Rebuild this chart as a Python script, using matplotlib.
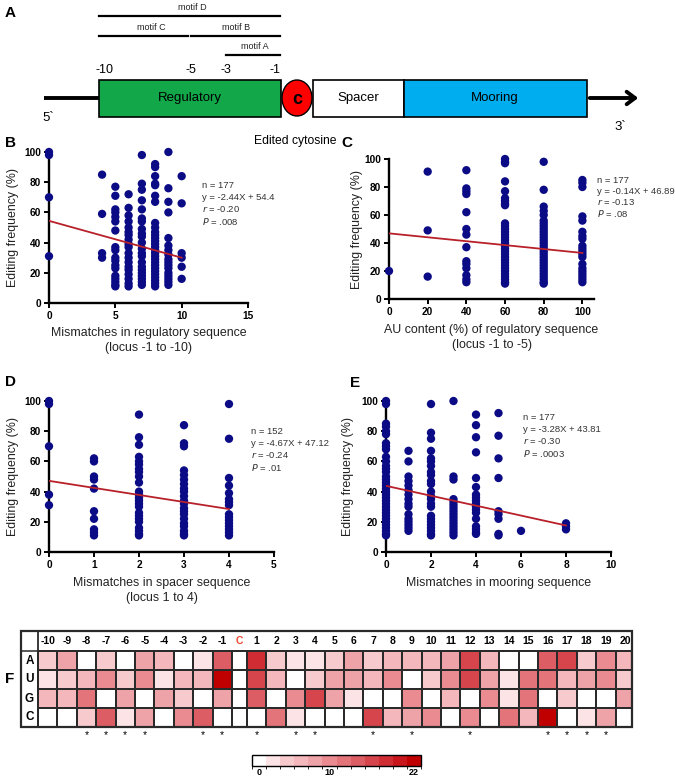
import matplotlib
matplotlib.use('Agg')
import matplotlib.pyplot as plt
import numpy as np
from matplotlib.patches import Rectangle, Ellipse
from matplotlib.colors import ListedColormap, BoundaryNorm
import matplotlib.cm as cm

plt.rcParams['font.family'] = ['Liberation Sans', 'DejaVu Sans']

W, H = 675, 778

# ---- data: scatter panels (x value -> list of editing frequencies) ----
b_x = [0, 4, 5, 6, 7, 8, 9, 10]
b_y = [[100, 98, 70, 31],
       [85, 59, 33, 30],
       [77, 71, 62, 60, 57, 54, 48, 37, 35, 30, 28, 25, 23, 18, 16, 14, 12, 11],
       [72, 63, 58, 54, 50, 47, 45, 42, 39, 37, 33, 30, 27, 24, 22, 19, 16, 13, 11],
       [98, 79, 75, 68, 62, 56, 54, 49, 46, 44, 40, 36, 33, 31, 27, 24, 22, 20, 18, 16, 14, 12],
       [92, 90, 84, 79, 78, 71, 67, 53, 50, 47, 45, 43, 41, 39, 37, 35, 33, 31, 29, 27, 25, 23,
        21, 19, 17, 15, 13, 11],
       [100, 76, 67, 60, 43, 38, 35, 32, 29, 27, 25, 23, 20, 18, 16, 14, 12],
       [84, 66, 33, 30, 24, 16]]
b_fit = (-2.44, 54.4, 0, 10)
b_stats = ['n = 177', 'y = -2.44X + 54.4', '$r$ = -0.20', '$P$ = .008']

c_x = [0, 20, 40, 60, 80, 100]
c_y = [[20],
       [91, 49, 16],
       [92, 79, 77, 75, 62, 50, 46, 37, 27, 25, 22, 17, 14, 12],
       [100, 98, 97, 84, 77, 72, 70, 68, 67, 54, 52, 50, 48, 46, 44, 42, 40, 38, 36, 34, 32, 30,
        28, 26, 24, 22, 20, 18, 16, 14, 12, 11],
       [98, 78, 66, 63, 60, 56, 54, 52, 50, 48, 46, 44, 42, 40, 38, 36, 34, 32, 30, 28, 26, 24,
        22, 20, 18, 16, 14, 12, 11],
       [85, 83, 80, 59, 56, 48, 45, 43, 38, 36, 34, 32, 30, 25, 22, 20, 18, 16, 14, 12]]
c_fit = (-0.14, 46.89, 0, 100)
c_stats = ['n = 177', 'y = -0.14X + 46.89', '$r$ = -0.13', '$P$ = .08']

d_x = [0, 1, 2, 3, 4]
d_y = [[100, 98, 70, 38, 31],
       [62, 60, 50, 48, 42, 27, 22, 15, 13, 11],
       [91, 76, 71, 63, 60, 58, 55, 53, 50, 46, 40, 38, 36, 34, 32, 30, 26, 24, 22, 20, 16, 14,
        12, 11],
       [84, 72, 70, 54, 51, 48, 45, 42, 40, 37, 34, 32, 29, 27, 25, 22, 19, 17, 14, 12, 11],
       [98, 75, 49, 44, 39, 35, 33, 31, 25, 23, 21, 19, 17, 15, 13, 11]]
d_fit = (-4.67, 47.12, 0, 4)
d_stats = ['n = 152', 'y = -4.67X + 47.12', '$r$ = -0.24', '$P$ = .01']

e_x = [0, 1, 2, 3, 4, 5, 6, 8]
e_y = [[100, 98, 85, 83, 80, 78, 72, 70, 68, 63, 60, 57, 55, 53, 50, 48, 46, 44, 42, 40, 38,
        36, 34, 32, 30, 28, 26, 24, 22, 20, 18, 16, 14, 12, 11],
       [67, 60, 50, 47, 44, 41, 38, 35, 32, 30, 25, 22, 20, 18, 16, 14],
       [98, 79, 75, 67, 62, 60, 57, 53, 51, 47, 45, 40, 37, 35, 32, 30, 24, 22, 20, 18, 16, 14,
        12, 11],
       [100, 50, 48, 35, 33, 31, 29, 27, 25, 23, 21, 19, 17, 15, 13, 11],
       [91, 84, 76, 66, 49, 43, 38, 36, 34, 32, 30, 28, 26, 22, 17, 15, 13, 12],
       [92, 77, 62, 49, 27, 25, 22, 12, 11],
       [14],
       [19, 17, 15]]
e_fit = (-3.28, 43.81, 0, 8)
e_stats = ['n = 177', 'y = -3.28X + 43.81', '$r$ = -0.30', '$P$ = .0003']

# ---- data: heatmap (positions -10..-1 and 1..20, counts 0-22) ----
pos_up = ['-10', '-9', '-8', '-7', '-6', '-5', '-4', '-3', '-2', '-1']
pos_down = [str(i) for i in range(1, 21)]
bases = ['A', 'U', 'G', 'C']
heat_A = [4, 8, 0, 4, 0, 8, 6, 0, 2, 14,
          18, 4, 2, 2, 4, 8, 4, 6, 6, 6, 8, 16, 6, 0, 0, 14, 16, 4, 10, 6]
heat_U = [2, 4, 6, 10, 4, 10, 2, 6, 6, 22,
          16, 6, 0, 4, 8, 8, 6, 10, 0, 4, 10, 16, 8, 2, 12, 12, 6, 8, 10, 4]
heat_G = [6, 6, 12, 0, 8, 0, 8, 4, 0, 8,
          14, 0, 10, 16, 8, 2, 0, 0, 10, 0, 6, 0, 10, 2, 12, 0, 4, 0, 0, 8]
heat_C = [0, 0, 4, 14, 2, 8, 0, 10, 14, 0,
          0, 12, 2, 0, 0, 0, 16, 6, 8, 10, 0, 10, 0, 12, 6, 22, 0, 2, 8, 0]
starred = ['-8', '-7', '-6', '-5', '-2', '-1', '1', '3', '4', '7', '9', '12',
           '16', '17', '18', '19']

# ---- figure ----
fig = plt.figure(figsize=(W / 100, H / 100), dpi=100)


def px_axes(l, t, r, b, **kw):
    return fig.add_axes([l / W, 1 - b / H, (r - l) / W, (b - t) / H], **kw)


canvas = px_axes(0, 0, W, H)
canvas.set_xlim(0, W)
canvas.set_ylim(H, 0)
canvas.axis('off')
canvas.set_zorder(10)
canvas.patch.set_alpha(0)

dot_color = '#0B0B86'
fit_color = '#B8202A'


def scatter_panel(box, xs, ys, fit, stats, xlim, xticks, letter, letter_xy,
                  stats_xy, stats_dy, xlabel, xlabel_y, ylabel_x):
    l, t, r, b = box
    ax = px_axes(l, t, r, b)
    px = np.concatenate([[x] * len(v) for x, v in zip(xs, ys)])
    py = np.concatenate(ys)
    ax.scatter(px, py, s=36, color=dot_color, edgecolors='none', clip_on=False, zorder=3)
    m, c, x0, x1 = fit
    ax.plot([x0, x1], [m * x0 + c, m * x1 + c], color=fit_color, lw=1.3, zorder=4)
    ax.set_xlim(*xlim)
    ax.set_ylim(0, 100)
    ax.set_xticks(xticks)
    ax.set_yticks([0, 20, 40, 60, 80, 100])
    for s in ['top', 'right']:
        ax.spines[s].set_visible(False)
    for s in ['left', 'bottom']:
        ax.spines[s].set_linewidth(1.7)
    ax.tick_params(width=1.4, length=3.5, labelsize=7.3, pad=2)
    for lab in ax.get_xticklabels() + ax.get_yticklabels():
        lab.set_fontweight('bold')
    ax.patch.set_alpha(0)
    canvas.text(letter_xy[0], letter_xy[1], letter, fontsize=11, fontweight='bold',
                ha='left', va='center')
    for i, st in enumerate(stats):
        canvas.text(stats_xy[0], stats_xy[1] + i * stats_dy, st, fontsize=6.8,
                    color='#333333', ha='left', va='center')
    for i, line in enumerate(xlabel):
        canvas.text((l + r) / 2, xlabel_y + i * 15, line, fontsize=8.9,
                    ha='center', va='center', color='#222222')
    canvas.text(ylabel_x, (t + b) / 2, 'Editing frequency (%)', fontsize=8.9,
                rotation=90, ha='center', va='center', color='#222222')
    return ax


scatter_panel((49, 152, 248, 303), b_x, b_y, b_fit, b_stats, (0, 15), [0, 5, 10, 15],
              'B', (5, 143), (202, 185), 12.2,
              ['Mismatches in regulatory sequence', '(locus -1 to -10)'], 333, 13)
scatter_panel((389, 159, 594, 299), c_x, c_y, c_fit, c_stats, (0, 106),
              [0, 20, 40, 60, 80, 100],
              'C', (341, 143), (597, 180), 11.2,
              ['AU content (%) of regulatory sequence', '(locus -1 to -5)'], 330, 357)
scatter_panel((49, 401, 274, 552), d_x, d_y, d_fit, d_stats, (0, 5), [0, 1, 2, 3, 4, 5],
              'D', (5, 382), (251, 431), 12.0,
              ['Mismatches in spacer sequence', '(locus 1 to 4)'], 583, 13)
scatter_panel((386, 401, 611, 552), e_x, e_y, e_fit, e_stats, (0, 10),
              [0, 2, 4, 6, 8, 10],
              'E', (350, 383), (523, 417), 12.0,
              ['Mismatches in mooring sequence'], 583, 348)

# ---- panel A: schematic ----
canvas.text(5, 13, 'A', fontsize=11, fontweight='bold', ha='left', va='center')
canvas.plot([44, 99], [98, 98], color='black', lw=2.8, solid_capstyle='butt')
canvas.add_patch(Rectangle((99, 80), 182, 37, facecolor='#12A84A', edgecolor='black', lw=1.2))
canvas.add_patch(Rectangle((313, 80), 91, 37, facecolor='white', edgecolor='black', lw=1.2))
canvas.add_patch(Rectangle((404, 80), 183, 37, facecolor='#00AEEF', edgecolor='black', lw=1.2))
canvas.annotate('', xy=(641, 98), xytext=(587, 98),
                arrowprops=dict(arrowstyle='->,head_length=0.6,head_width=0.45',
                                color='black', lw=2.8))
canvas.add_patch(Ellipse((297, 98), 30, 36, facecolor='#FF0000', edgecolor='black', lw=1.0))
canvas.text(297, 99, 'c', fontsize=13, fontweight='bold', ha='center', va='center')
canvas.text(190, 98, 'Regulatory', fontsize=9.5, ha='center', va='center')
canvas.text(358, 98, 'Spacer', fontsize=9.5, ha='center', va='center')
canvas.text(495, 98, 'Mooring', fontsize=9.5, ha='center', va='center')
canvas.text(48, 118, '5`', fontsize=9.5, ha='center', va='center')
canvas.text(620, 127, '3`', fontsize=9.5, ha='center', va='center')
canvas.text(295, 141, 'Edited cytosine', fontsize=8.7, ha='center', va='center')
for lab, x in [('-10', 105), ('-5', 191), ('-3', 226), ('-1', 275)]:
    canvas.text(x, 70, lab, fontsize=9, ha='center', va='center')
for x0, x1, y, lab, tx in [(99, 280, 16, 'motif D', 192), (99, 188, 36, 'motif C', 151),
                           (191, 280, 36, 'motif B', 236), (226, 280, 55, 'motif A', 255)]:
    canvas.plot([x0, x1], [y, y], color='black', lw=1.6)
    canvas.text(tx, y - 9, lab, fontsize=6.5, ha='center', va='center', color='#222222')

# ---- panel F: heatmap ----
canvas.text(5, 679, 'F', fontsize=11, fontweight='bold', ha='left', va='center')
tx0, tx1, ty0, ty1 = 21, 632, 631, 727
hdr_b = 651
lab_r = 38
cw = (232 - 38) / 10
cgap = 15
axh = px_axes(tx0, ty0, tx1, ty1)
axh.set_xlim(tx0, tx1)
axh.set_ylim(ty1, ty0)
axh.axis('off')

colors = ['#FFFFFF', '#FCE3E5', '#F7CACE', '#F3B7BC', '#EEA3A9', '#E98B91',
          '#E3747A', '#DD5D64', '#D6454C', '#CF2D33', '#C8161C', '#C00000']
cmap = ListedColormap(colors)
cmap.set_bad('white')
bounds = np.arange(-1, 24, 2)
norm = BoundaryNorm(bounds, cmap.N)

rows = [heat_A, heat_U, heat_G, heat_C]
grid = np.array([r[:10] + [np.nan] + r[10:] for r in rows], dtype=float)
xe = np.concatenate([lab_r + np.arange(11) * cw,
                     lab_r + 10 * cw + cgap + np.arange(21) * cw])
ye = np.linspace(hdr_b, ty1, 5)
axh.pcolormesh(xe, ye, np.ma.masked_invalid(grid), cmap=cmap, norm=norm,
               edgecolors='#2A2A2A', linewidth=1.1)
# C column borders and table frame
axh.plot([xe[10], xe[10]], [hdr_b, ty1], color='#2A2A2A', lw=1.1)
axh.plot([xe[11], xe[11]], [hdr_b, ty1], color='#2A2A2A', lw=1.1)
axh.plot([tx0, tx1], [hdr_b, hdr_b], color='#2A2A2A', lw=1.1)
axh.plot([lab_r, lab_r], [ty0, ty1], color='#2A2A2A', lw=1.3)
axh.add_patch(Rectangle((tx0, ty0), tx1 - tx0, ty1 - ty0, facecolor='none',
                        edgecolor='#2A2A2A', lw=1.6, clip_on=False))

labels = pos_up + ['C'] + pos_down
centers = (xe[:-1] + xe[1:]) / 2
for lab, xc in zip(labels, centers):
    axh.text(xc, (ty0 + hdr_b) / 2 + 0.5, lab, fontsize=7.5, fontweight='bold',
             ha='center', va='center', color='#E8472E' if lab == 'C' else 'black')
    if lab in starred and lab != 'C':
        canvas.text(xc, 735, '*', fontsize=7.5, ha='center', va='center')
for i, base in enumerate(bases):
    axh.text((tx0 + lab_r) / 2, (ye[i] + ye[i + 1]) / 2, base, fontsize=8.5,
             fontweight='bold', ha='center', va='center')

# colour scale
cax = px_axes(252, 755, 421, 766)
cb = fig.colorbar(cm.ScalarMappable(norm=norm, cmap=cmap), cax=cax,
                  orientation='horizontal', ticks=[0, 10, 22])
cb.outline.set_linewidth(1.0)
cax.tick_params(length=0, labelsize=6.5, pad=1.5)
for lab in cax.get_xticklabels():
    lab.set_fontweight('bold')

fig.savefig('out.png', dpi=100)
